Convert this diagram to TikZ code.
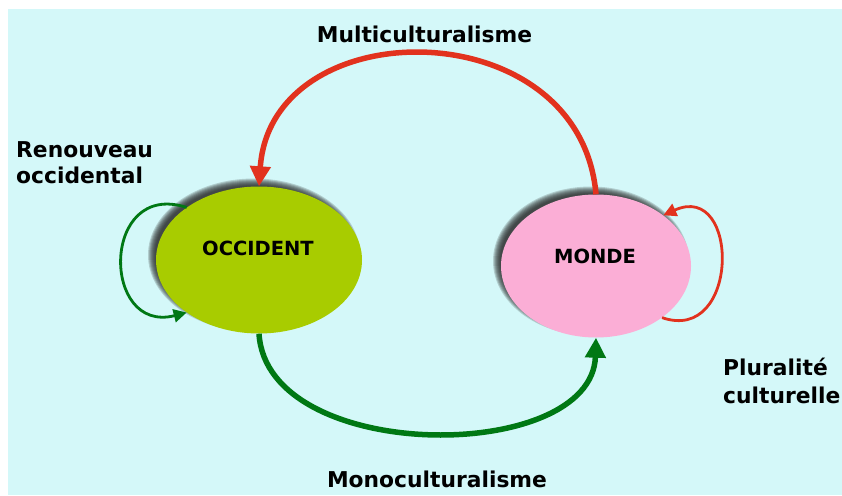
\documentclass[tikz,border=0pt]{standalone}
\usepackage{fontspec}
\setmainfont{DejaVu Sans}
\usetikzlibrary{arrows.meta,shapes.geometric}
\definecolor{bgcyan}{RGB}{212,248,249}
\definecolor{occgreen}{RGB}{168,204,0}
\definecolor{mondepink}{RGB}{251,174,214}
\definecolor{arrred}{RGB}{226,50,30}
\definecolor{arrgreen}{RGB}{0,120,20}

\begin{document}
\begin{tikzpicture}[x=1pt,y=-1pt,
  blob/.style={ellipse, inner sep=0pt, draw=none},
  biglabel/.style={font=\fontsize{21.8}{26}\selectfont\bfseries, inner sep=0pt},
  blobtext/.style={font=\fontsize{19.5}{23}\selectfont\bfseries, inner sep=0pt},
  bigarrow/.style={line width=5.5pt, -{Triangle[length=20pt,width=20pt]}},
  looparrow/.style={line width=2.8pt, -{Triangle[length=13pt,width=13pt]}},
]
\useasboundingbox (0,0) rectangle (842,495);
\fill[bgcyan] (8,9) rectangle (842,495);

% soft shadows cast towards the upper left
\foreach \s in {3,2,...,-4}{
  \fill[black!85, opacity=0.2] (254,255) ellipse [x radius={(103+\s)*1pt}, y radius={(73.5+\s)*1pt}];
  \fill[black!85, opacity=0.2] (591,261) ellipse [x radius={(95+\s)*1pt}, y radius={(71.5+\s)*1pt}];
}

% the two poles
\node[blob, fill=occgreen, minimum width=206pt, minimum height=147pt] (occ) at (259,260) {};
\node[blob, fill=mondepink, minimum width=190pt, minimum height=143pt] (monde) at (596,266) {};
\node[blobtext] (occtxt) at (258,248) {OCCIDENT};
\node[blobtext] (mondetxt) at (595,256) {MONDE};

% connectors
\draw[bigarrow, arrred] (monde.north) .. controls +(-16,-185) and +(12,-177) .. (occ.north);
\draw[bigarrow, arrgreen] (occ.south) .. controls +(8,131) and +(-4,127) .. (monde.south);
\draw[looparrow, arrgreen] (occ.144) .. controls +(-86,-28) and +(-86,22) .. (occ.216);
\draw[looparrow, arrred] (monde.-38) .. controls +(78,27) and +(77,-35) .. (monde.37);

% labels
\node[biglabel, anchor=base] (multi) at (424.5,42) {Multiculturalisme};
\node[biglabel, anchor=base] (mono) at (437,487) {Monoculturalisme};
\node[biglabel, anchor=base west] (renouv1) at (16,157) {Renouveau};
\node[biglabel, anchor=base west] (renouv2) at (16,183) {occidental};
\node[biglabel, anchor=base west] (plur1) at (723,375) {Pluralité};
\node[biglabel, anchor=base west] (plur2) at (723,403) {culturelle};
\end{tikzpicture}
\end{document}
